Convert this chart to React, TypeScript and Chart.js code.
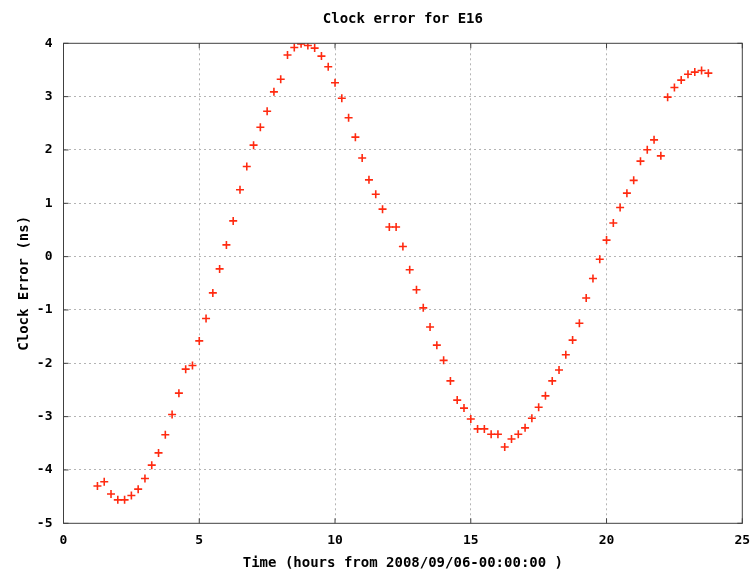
import React, { useEffect, useRef } from 'react';
import { Chart, registerables } from 'chart.js';

Chart.register(...registerables);

const chartTitle = 'Clock error for E16';
const xAxisTitle = 'Time (hours from 2008/09/06-00:00:00 )';
const yAxisTitle = 'Clock Error (ns)';

const hours = [
  1.25, 1.5, 1.75, 2.0, 2.25, 2.5, 2.75, 3.0, 3.25, 3.5, 3.75, 4.0, 4.25, 4.5, 4.75,
  5.0, 5.25, 5.5, 5.75, 6.0, 6.25, 6.5, 6.75, 7.0, 7.25, 7.5, 7.75, 8.0, 8.25, 8.5,
  8.75, 9.0, 9.25, 9.5, 9.75, 10.0, 10.25, 10.5, 10.75, 11.0, 11.25, 11.5, 11.75,
  12.0, 12.25, 12.5, 12.75, 13.0, 13.25, 13.5, 13.75, 14.0, 14.25, 14.5, 14.75,
  15.0, 15.25, 15.5, 15.75, 16.0, 16.25, 16.5, 16.75, 17.0, 17.25, 17.5, 17.75,
  18.0, 18.25, 18.5, 18.75, 19.0, 19.25, 19.5, 19.75, 20.0, 20.25, 20.5, 20.75,
  21.0, 21.25, 21.5, 21.75, 22.0, 22.25, 22.5, 22.75, 23.0, 23.25, 23.5, 23.75,
];

const clockError = [
  -4.30, -4.22, -4.45, -4.56, -4.56, -4.48, -4.36, -4.16, -3.91, -3.68, -3.34, -2.96, -2.56, -2.11, -2.04,
  -1.58, -1.16, -0.68, -0.23, 0.22, 0.67, 1.255, 1.69, 2.09, 2.425, 2.725, 3.09, 3.325, 3.78, 3.92,
  3.99, 3.96, 3.91, 3.76, 3.56, 3.26, 2.97, 2.605, 2.24, 1.85, 1.44, 1.17, 0.89,
  0.555, 0.555, 0.19, -0.245, -0.62, -0.96, -1.32, -1.66, -1.945, -2.33, -2.69, -2.84,
  -3.045, -3.23, -3.23, -3.33, -3.33, -3.57, -3.42, -3.33, -3.21, -3.03, -2.825, -2.61,
  -2.33, -2.125, -1.84, -1.565, -1.25, -0.775, -0.41, -0.05, 0.31, 0.63, 0.92, 1.19,
  1.43, 1.79, 2.005, 2.19, 1.89, 2.99, 3.17, 3.31, 3.42, 3.46, 3.49, 3.44,
];

const xRange = [0, 25];
const xStep = 5;
const yRange = [-5, 4];
const yStep = 1;

const FONT = "'DejaVu Sans Mono', 'Liberation Mono', monospace";

export default function App() {
  const ref = useRef<HTMLCanvasElement>(null);

  useEffect(() => {
    if (!ref.current) return;

    const framePlugin = {
      id: 'frame',
      afterDatasetsDraw(chart: any) {
        const { ctx, chartArea } = chart;
        const { left, right, top, bottom } = chartArea;
        const xs = chart.scales.x;
        const ys = chart.scales.y;
        ctx.save();
        ctx.strokeStyle = '#404040';
        ctx.lineWidth = 1;
        ctx.setLineDash([]);
        ctx.strokeRect(left, top, right - left, bottom - top);
        const tl = 5;
        ctx.beginPath();
        xs.ticks.forEach((t: any) => {
          const px = xs.getPixelForValue(t.value);
          ctx.moveTo(px, bottom);
          ctx.lineTo(px, bottom - tl);
          ctx.moveTo(px, top);
          ctx.lineTo(px, top + tl);
        });
        ys.ticks.forEach((t: any) => {
          const py = ys.getPixelForValue(t.value);
          ctx.moveTo(left, py);
          ctx.lineTo(left + tl, py);
          ctx.moveTo(right, py);
          ctx.lineTo(right - tl, py);
        });
        ctx.stroke();
        ctx.restore();
      },
    };

    const gridColor = (min: number, max: number) => (c: any) =>
      c.tick && (c.tick.value === min || c.tick.value === max) ? 'rgba(0,0,0,0)' : '#b4b4b4';

    const chart = new Chart(ref.current, {
      type: 'scatter',
      data: {
        datasets: [
          {
            data: hours.map((h, i) => ({ x: h, y: clockError[i] })),
            pointStyle: 'cross',
            pointRadius: 4,
            pointBorderWidth: 1.6,
            borderColor: '#ff2a10',
            backgroundColor: '#ff2a10',
            showLine: false,
          },
        ],
      },
      options: {
        responsive: false,
        animation: false,
        devicePixelRatio: 1,
        layout: { padding: { left: 0, right: 12.7, top: 0, bottom: 0 } },
        plugins: {
          legend: { display: false },
          tooltip: { enabled: false },
          title: {
            display: true,
            fullSize: false,
            text: chartTitle,
            color: '#000',
            font: { family: FONT, size: 14, weight: 'bold', lineHeight: 1.2 },
            padding: { top: 10.5, bottom: 16 },
          },
        },
        scales: {
          x: {
            type: 'linear',
            min: xRange[0],
            max: xRange[1],
            afterFit(s: any) {
              s.height = 46.7;
              s.paddingLeft = 0;
              s.paddingRight = 0;
            },
            ticks: {
              stepSize: xStep,
              color: '#000',
              padding: 10,
              font: { family: FONT, size: 13, weight: 'bold' },
            },
            grid: {
              drawTicks: false,
              color: gridColor(xRange[0], xRange[1]),
              lineWidth: 1,
            },
            border: { display: false, dash: [2, 3] },
            title: {
              display: true,
              text: xAxisTitle,
              color: '#000',
              font: { family: FONT, size: 14, weight: 'bold', lineHeight: 1 },
              padding: { top: 0, bottom: 0 },
            },
          },
          y: {
            type: 'linear',
            min: yRange[0],
            max: yRange[1],
            afterFit(s: any) {
              s.width = 63.5;
              s.paddingTop = 0;
              s.paddingBottom = 0;
            },
            ticks: {
              stepSize: yStep,
              color: '#000',
              padding: 11,
              font: { family: FONT, size: 13, weight: 'bold' },
            },
            grid: {
              drawTicks: false,
              color: gridColor(yRange[0], yRange[1]),
              lineWidth: 1,
            },
            border: { display: false, dash: [2, 3] },
            title: {
              display: true,
              text: yAxisTitle,
              color: '#000',
              font: { family: FONT, size: 14, weight: 'bold', lineHeight: 1.2 },
              padding: { top: 16, bottom: 0 },
            },
          },
        },
      },
      plugins: [framePlugin],
    } as any);

    return () => chart.destroy();
  }, []);

  return (
    <div style={{ position: 'fixed', left: 0, top: 0, width: 755, height: 570, background: '#fff' }}>
      <canvas ref={ref} width={755} height={570} style={{ display: 'block' }} />
    </div>
  );
}
